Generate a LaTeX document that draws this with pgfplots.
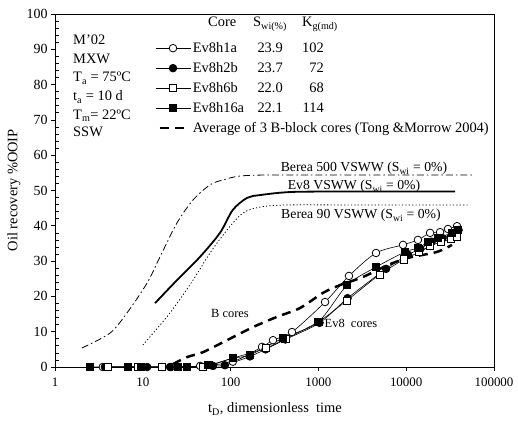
\documentclass[border=0pt]{standalone}
\usepackage{fontspec}
\setmainfont{Liberation Serif}
\usepackage{pgfplots}
\pgfplotsset{compat=1.18}
\pgfplotsset{avg legend/.style={legend image code/.code={\draw[##1] (4bp,0bp) -- (28bp,0bp);}}}

\begin{document}
\begin{tikzpicture}
\begin{axis}[
    scale only axis,
    width=439bp, height=353bp,
    xmode=log, log basis x=10,
    xmin=1, xmax=100000, ymin=0, ymax=100,
    xtick={1,10,100,1000,10000,100000},
    xticklabels={1,10,100,1000,10000,100000},
    ytick={0,10,...,100}, minor y tick num=4,
    tick pos=left,
    tick align=outside, major tick length=4bp, minor tick length=-4bp,
    axis line style={line width=0.9bp},
    tick style={line width=0.7bp, black},
    /pgf/number format/assume math mode=true,
    xticklabel style={font=\fontsize{13}{15}\selectfont, yshift=-3bp},
    yticklabel style={font=\fontsize{14}{16}\selectfont},
    xlabel={t\textsubscript{D}, dimensionless\ \ time},
    ylabel={Oil recovery \%OOIP},
    every axis x label/.style={at={(axis description cs:0.501,-0.119)}, anchor=center,
        font=\fontsize{14.5}{16}\selectfont},
    every axis y label/.style={at={(axis description cs:-0.0934,0.501)}, anchor=center, rotate=90,
        font=\fontsize{14.5}{16}\selectfont},
    legend style={draw=none, fill=none, at={(axis description cs:0.2278,0.925)},
        anchor=north west, inner sep=0pt, row sep=5bp, column sep=2bp,
        font=\fontsize{14.5}{16}\selectfont,
        nodes={inner sep=0pt, text height=12bp, text depth=3bp}},
    legend cell align=left,
    legend image code/.code={\draw[mark repeat=2,mark phase=2,#1]
        plot coordinates {(0bp,0bp)(17.5bp,0bp)(35bp,0bp)};},
]
% Berea 500 VSWW
\addplot[black, line width=0.8bp, smooth, dash pattern=on 7bp off 3bp on 1.5bp off 3bp, forget plot] coordinates {
    (2.03,5.4) (4.23,9.6) (6.6,15.3) (11.2,23.8) (15.7,31.2) (24.5,40.8) (37.3,47.3)
    (58.3,51.6) (81.9,53.0) (128,54.1) (281,54.4) (2000,54.4) (10000,54.4) (56000,54.4)
};
% Ev8 VSWW
\addplot[black, line width=1.8bp, smooth, forget plot] coordinates {
    (13.8,18.1) (24.5,24.6) (44.8,31.2) (75.7,38.0) (106,44.5) (154,47.9) (216,48.7)
    (514,49.6) (3000,49.7) (36000,49.7)
};
% Berea 90 VSWW
\addplot[black, line width=0.8bp, smooth, dash pattern=on 1.2bp off 2.2bp, forget plot] coordinates {
    (10,6.2) (20.4,15.3) (37.3,24.6) (58.3,32.3) (91,38.8) (138,43.6) (216,45.3)
    (439,45.9) (3000,45.9) (53000,45.9)
};

% Ev8h1a
\addplot[black, line width=0.6bp, smooth, mark=*, mark size=3.8bp,
    mark options={solid, fill=white, line width=0.8bp}] coordinates {
    (3.5,0) (16.5,0) (21,0) (45,0.3) (106,1.5) (228,5.7) (304,7.6) (500,9.9) (1190,18.4)
    (2230,25.8) (4530,32.3) (9200,34.6) (13600,36) (18700,38) (24300,38.2) (29900,39.1) (37900,39.9)
};
\addlegendentry{\makebox[63bp][l]{Ev8h1a}\makebox[27bp][r]{23.9}\makebox[41bp][r]{102}}
% Ev8h2b
\addplot[black, line width=0.6bp, smooth, mark=*, mark size=3.8bp,
    mark options={solid, fill=black, line width=0.8bp}] coordinates {
    (3.7,0) (11.2,0) (20.4,0) (63,0.3) (86,0.5) (166,3) (250,5) (420,7.8) (1030,12.5)
    (2150,19.5) (5900,27.8) (10500,31.8) (14500,33.5) (19500,35.5) (26000,36.5) (34000,37.8) (39500,38.8)
};
\addlegendentry{\makebox[63bp][l]{Ev8h2b}\makebox[27bp][r]{23.7}\makebox[41bp][r]{72}}
% Ev8h6b
\addplot[black, line width=0.6bp, smooth, mark=square*, mark size=3.6bp,
    mark options={solid, fill=white, line width=0.8bp}] coordinates {
    (4.0,0) (8.8,0) (16.5,0) (25.2,0) (48.5,0) (106,2.5) (250,5.3) (420,8) (1000,12.8)
    (2100,18.8) (5000,26.2) (9500,30.5) (14000,32.5) (18500,34.2) (25000,35.5) (32000,36.2) (38000,37)
};
\addlegendentry{\makebox[63bp][l]{Ev8h6b}\makebox[27bp][r]{22.0}\makebox[41bp][r]{68}}
% Ev8h16a
\addplot[black, line width=0.6bp, smooth, mark=square*, mark size=3.6bp,
    mark options={solid, fill=black, line width=0.8bp}] coordinates {
    (2.5,0) (6.8,0) (9.5,0) (25.2,0) (31.9,0) (56,0.5) (106,2.5) (166,3.4) (395,8.2) (990,12.7)
    (2130,23.2) (4530,28.3) (9700,32.6) (13600,33.7) (17700,35.4) (23000,36.5) (33200,38) (38900,38.8)
};
\addlegendentry{\makebox[63bp][l]{Ev8h16a}\makebox[27bp][r]{22.1}\makebox[41bp][r]{114}}
% Average of 3 B-block cores
\addplot[black, line width=2.5bp, smooth, dash pattern=on 9bp off 6bp, avg legend] coordinates {
    (22,0.8) (31.9,2.8) (48.5,4.2) (91,7.6) (180,11.3) (337,14.2) (617,16.7) (1128,21.0)
    (1762,23.2) (3220,25.5) (6210,28.9) (10500,30.9) (22400,32.6) (33200,34.6)
};
\addlegendentry{Average of 3 B-block cores (Tong \&Morrow 2004)}
\end{axis}

\begin{scope}[shift={(-55bp,367bp)}, x=1bp, y=-1bp,
    every node/.style={inner sep=0pt, font=\fontsize{14.5}{16}\selectfont}]
\node[anchor=base west] at (73,45) {M'02};
\node[anchor=base west] at (73,63.5) {MXW};
\node[anchor=base west] at (73,82) {T\textsubscript{a} = 75ºC};
\node[anchor=base west] at (73,101) {t\textsubscript{a} = 10 d};
\node[anchor=base west] at (73,119.5) {T\textsubscript{m}= 22ºC};
\node[anchor=base west] at (73,137) {SSW};
\node[anchor=base west] at (208,27) {Core};
\node[anchor=base west] at (253,27) {S\textsubscript{wi(\%)}};
\node[anchor=base west] at (302,27) {K\textsubscript{g(md)}};
\node[anchor=base, font=\fontsize{13.8}{15}\selectfont] at (364,172) {Berea 500 VSWW (S\textsubscript{wi} = 0\%)};
\node[anchor=base, font=\fontsize{13.8}{15}\selectfont] at (354,190) {Ev8 VSWW (S\textsubscript{wi} = 0\%)};
\node[anchor=base, font=\fontsize{13.8}{15}\selectfont] at (361,219) {Berea 90 VSWW (S\textsubscript{wi} = 0\%)};
\node[font=\fontsize{12.5}{14}\selectfont] at (230,313) {B cores};
\node[font=\fontsize{12.5}{14}\selectfont] at (351,323) {Ev8\ \ cores};
\end{scope}

\pgfresetboundingbox
\path[use as bounding box] (-55bp,-54bp) rectangle (463bp,367bp);
\end{tikzpicture}
\end{document}
